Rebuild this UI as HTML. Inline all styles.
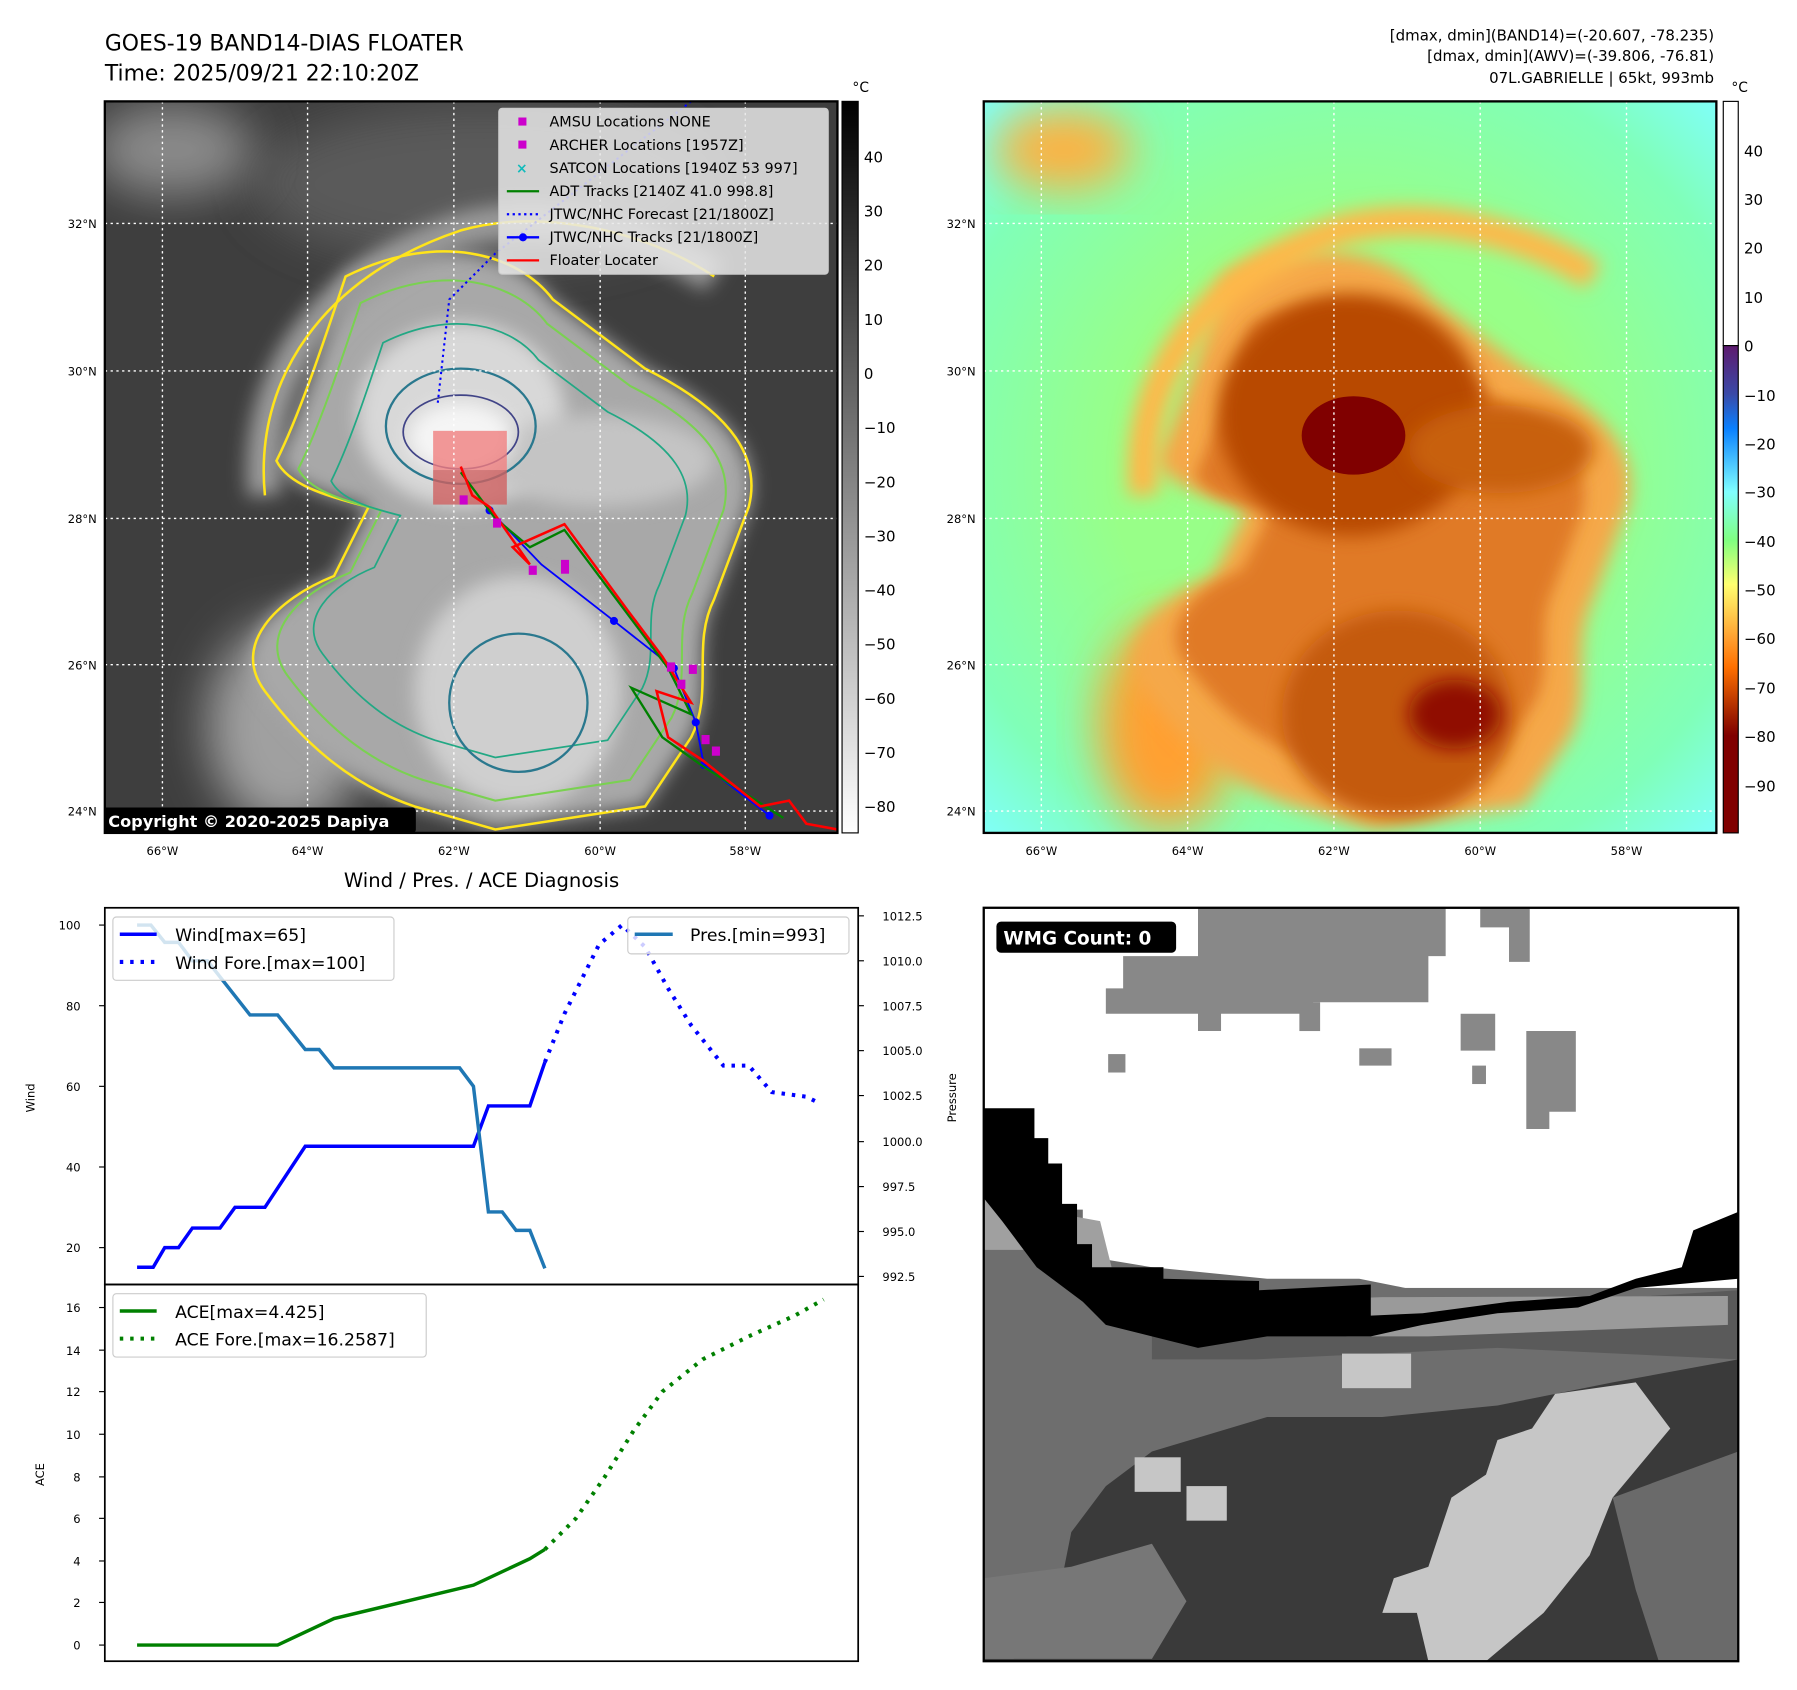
<!DOCTYPE html>
<html><head><meta charset="utf-8"><style>
html,body{margin:0;padding:0;background:#fff;width:1797px;height:1690px;overflow:hidden}
svg{display:block;font-family:"DejaVu Sans","Liberation Sans",sans-serif}
</style></head><body>
<svg width="1797" height="1690" viewBox="0 0 1560 1467" preserveAspectRatio="none" xmlns="http://www.w3.org/2000/svg">
<defs>
<filter id="b8" x="-20%" y="-20%" width="140%" height="140%"><feGaussianBlur stdDeviation="8"/></filter>
<filter id="b20" x="-30%" y="-30%" width="160%" height="160%"><feGaussianBlur stdDeviation="20"/></filter>
<clipPath id="cL"><rect x="91" y="88" width="636" height="635"/></clipPath>
<clipPath id="cR"><rect x="854" y="88" width="636" height="635"/></clipPath>
<clipPath id="cW"><rect x="854" y="788" width="655" height="654"/></clipPath>
<linearGradient id="gcb" x1="0" y1="0" x2="0" y2="1"><stop offset="0" stop-color="#000"/><stop offset="1" stop-color="#fff"/></linearGradient>
<linearGradient id="ccb" x1="0" y1="0" x2="0" y2="1">
<stop offset="0" stop-color="#5e1a6e"/><stop offset="0.10" stop-color="#3a4aa8"/><stop offset="0.17" stop-color="#0a80ff"/><stop offset="0.30" stop-color="#80ffff"/><stop offset="0.40" stop-color="#80ff80"/><stop offset="0.49" stop-color="#ffff70"/><stop offset="0.60" stop-color="#ffa030"/><stop offset="0.66" stop-color="#ff7000"/><stop offset="0.76" stop-color="#a02000"/><stop offset="0.80" stop-color="#800000"/><stop offset="1" stop-color="#800000"/></linearGradient>
<radialGradient id="rbg" cx="0.5" cy="0.5" r="0.72"><stop offset="0.45" stop-color="#98ff88"/><stop offset="0.8" stop-color="#80ffb8"/><stop offset="1" stop-color="#80ffff"/></radialGradient>
<path id="storm" d="M300,240 C380,200 450,220 480,260 L560,320 C640,360 660,400 650,440 L620,520 C600,560 620,600 600,640 L560,700 L430,720 L360,700 C300,680 260,640 230,600 C200,560 240,520 290,500 L320,440 C280,430 250,420 240,400 C260,360 280,300 300,240 Z"/>
<path id="band" d="M230,430 C220,330 280,240 400,200 C470,180 560,200 620,240" fill="none"/>
</defs>

<text x="91" y="44" font-size="19">GOES-19 BAND14-DIAS FLOATER</text>
<text x="91" y="70" font-size="19">Time: 2025/09/21 22:10:20Z</text>
<text x="1488" y="35" font-size="13" text-anchor="end">[dmax, dmin](BAND14)=(-20.607, -78.235)</text>
<text x="1488" y="53" font-size="13" text-anchor="end">[dmax, dmin](AWV)=(-39.806, -76.81)</text>
<text x="1488" y="72" font-size="13" text-anchor="end">07L.GABRIELLE | 65kt, 993mb</text>

<!-- LEFT MAP -->
<g clip-path="url(#cL)">
<rect x="91" y="88" width="636" height="635" fill="#3e3e3e"/>
<ellipse cx="420" cy="160" rx="200" ry="70" fill="#5a5a5a" filter="url(#b20)"/>
<ellipse cx="150" cy="130" rx="70" ry="40" fill="#8a8a8a" filter="url(#b20)"/>
<ellipse cx="250" cy="630" rx="70" ry="90" fill="#a0a0a0" filter="url(#b20)"/>
<use href="#storm" fill="#a8a8a8" filter="url(#b8)"/>
<use href="#band" stroke="#9a9a9a" stroke-width="30" filter="url(#b8)"/>
<ellipse cx="400" cy="360" rx="90" ry="80" fill="#d8d8d8" filter="url(#b8)"/>
<ellipse cx="450" cy="600" rx="90" ry="100" fill="#cfcfcf" filter="url(#b8)"/>
<ellipse cx="520" cy="400" rx="100" ry="40" fill="#c4c4c4" filter="url(#b8)"/>
<ellipse cx="400" cy="380" rx="45" ry="30" fill="#f5f5f5" filter="url(#b8)"/>
<use href="#storm" fill="none" stroke="#ffe41a" stroke-width="2.2"/>
<use href="#band" stroke="#ffe41a" stroke-width="2.2"/>
<use href="#storm" fill="none" stroke="#7ad151" stroke-width="2" transform="translate(430 470) scale(0.9) translate(-430 -470)"/>
<use href="#storm" fill="none" stroke="#22a884" stroke-width="2" transform="translate(430 470) scale(0.75) translate(-430 -470)"/>
<ellipse cx="400" cy="370" rx="65" ry="50" fill="none" stroke="#2a788e" stroke-width="2"/>
<ellipse cx="400" cy="375" rx="50" ry="32" fill="none" stroke="#414487" stroke-width="1.5"/>
<ellipse cx="450" cy="610" rx="60" ry="60" fill="none" stroke="#2a788e" stroke-width="2"/>
<rect x="376" y="374" width="64" height="34" fill="#f08080" opacity="0.8"/>
<rect x="376" y="408" width="64" height="30" fill="#d06060" opacity="0.8"/>
<g stroke="#fff" stroke-width="1.2" stroke-dasharray="2,3">
<line x1="141" y1="88" x2="141" y2="723"/><line x1="267" y1="88" x2="267" y2="723"/><line x1="394" y1="88" x2="394" y2="723"/><line x1="521" y1="88" x2="521" y2="723"/><line x1="647" y1="88" x2="647" y2="723"/>
<line x1="91" y1="194" x2="727" y2="194"/><line x1="91" y1="322" x2="727" y2="322"/><line x1="91" y1="450" x2="727" y2="450"/><line x1="91" y1="577" x2="727" y2="577"/><line x1="91" y1="704" x2="727" y2="704"/>
</g>
<polyline points="600,88 430,220 390,260 380,350" fill="none" stroke="#00f" stroke-width="1.8" stroke-dasharray="2,3"/>
<polyline points="425,443 470,490 533,539 585,580 604,627 611,664 668,708" fill="none" stroke="#00f" stroke-width="1.6"/>
<g fill="#00f"><circle cx="425" cy="443" r="3.5"/><circle cx="533" cy="539" r="3.5"/><circle cx="585" cy="580" r="3.5"/><circle cx="604" cy="627" r="3.5"/><circle cx="611" cy="664" r="3.5"/><circle cx="668" cy="708" r="3.5"/></g>
<polyline points="400,410 430,450 460,475 490,460 550,540 580,580 600,620 548,597 575,640 610,665 680,710" fill="none" stroke="#008000" stroke-width="2"/>
<polyline points="400,405 410,430 425,440 460,490 445,475 490,455 545,530 575,570 600,610 570,600 580,640 610,660 660,700 685,695 700,715 727,720" fill="none" stroke="#f00" stroke-width="2.2"/>
<g fill="#c0c"><rect x="399" y="430" width="7" height="8"/><rect x="428" y="450" width="7" height="8"/><rect x="459" y="491" width="7" height="8"/><rect x="487" y="486" width="7" height="12"/><rect x="579" y="575" width="7" height="8"/><rect x="598" y="577" width="7" height="8"/><rect x="588" y="590" width="7" height="8"/><rect x="609" y="638" width="7" height="8"/><rect x="618" y="648" width="7" height="8"/></g>
<rect x="433" y="94" width="286" height="144" rx="3" fill="#e8e8e8" fill-opacity="0.85" stroke="#ccc"/>
<g font-size="12.5" fill="#000">
<rect x="450" y="102" width="7" height="7" fill="#c0c"/><text x="477" y="110">AMSU Locations NONE</text>
<rect x="450" y="122" width="7" height="7" fill="#c0c"/><text x="477" y="130">ARCHER Locations [1957Z]</text>
<text x="448" y="150" fill="#1bb" font-size="12" font-weight="bold">×</text><text x="477" y="150">SATCON Locations [1940Z 53 997]</text>
<line x1="440" y1="166" x2="468" y2="166" stroke="#008000" stroke-width="2"/><text x="477" y="170">ADT Tracks [2140Z 41.0 998.8]</text>
<line x1="440" y1="186" x2="468" y2="186" stroke="#00f" stroke-width="2" stroke-dasharray="2,3"/><text x="477" y="190">JTWC/NHC Forecast [21/1800Z]</text>
<line x1="440" y1="206" x2="468" y2="206" stroke="#00f" stroke-width="2"/><circle cx="454" cy="206" r="3.5" fill="#00f"/><text x="477" y="210">JTWC/NHC Tracks [21/1800Z]</text>
<line x1="440" y1="226" x2="468" y2="226" stroke="#f00" stroke-width="2"/><text x="477" y="230">Floater Locater</text>
</g>
<rect x="89" y="701" width="272" height="22" rx="3" fill="#000"/>
<text x="94" y="718" font-size="14" font-weight="bold" fill="#fff">Copyright © 2020-2025 Dapiya</text>
</g>
<rect x="91" y="88" width="636" height="635" fill="none" stroke="#000" stroke-width="2"/>
<g font-size="10" text-anchor="end"><text x="84" y="198">32°N</text><text x="84" y="326">30°N</text><text x="84" y="454">28°N</text><text x="84" y="581">26°N</text><text x="84" y="708">24°N</text></g>
<g font-size="10" text-anchor="middle"><text x="141" y="742">66°W</text><text x="267" y="742">64°W</text><text x="394" y="742">62°W</text><text x="521" y="742">60°W</text><text x="647" y="742">58°W</text></g>
<rect x="731" y="88" width="14" height="635" fill="url(#gcb)" stroke="#000"/>
<text x="740" y="80" font-size="12">°C</text>
<g font-size="13"><text x="750" y="141">40</text><text x="750" y="188">30</text><text x="750" y="235">20</text><text x="750" y="282">10</text><text x="750" y="329">0</text><text x="750" y="376">−10</text><text x="750" y="423">−20</text><text x="750" y="470">−30</text><text x="750" y="517">−40</text><text x="750" y="564">−50</text><text x="750" y="611">−60</text><text x="750" y="658">−70</text><text x="750" y="705">−80</text></g>

<!-- RIGHT MAP -->
<g clip-path="url(#cR)">
<rect x="854" y="88" width="636" height="635" fill="url(#rbg)"/>
<g transform="translate(763 0)">
<ellipse cx="160" cy="130" rx="60" ry="35" fill="#ffb040" filter="url(#b20)"/>
<ellipse cx="250" cy="630" rx="60" ry="90" fill="#ffa030" filter="url(#b20)"/>
<use href="#storm" fill="#f5a848" filter="url(#b8)"/>
<use href="#band" stroke="#ffb848" stroke-width="26" filter="url(#b8)"/>
<use href="#storm" fill="#e07a28" filter="url(#b8)" transform="translate(430 470) scale(0.82) translate(-430 -470)"/>
<ellipse cx="410" cy="360" rx="115" ry="105" fill="#b84800" filter="url(#b8)"/>
<ellipse cx="450" cy="620" rx="100" ry="90" fill="#c45a10" filter="url(#b8)"/>
<ellipse cx="540" cy="390" rx="80" ry="38" fill="#c86010" filter="url(#b8)"/>
<ellipse cx="500" cy="620" rx="40" ry="30" fill="#901000" filter="url(#b8)"/>
<ellipse cx="412" cy="378" rx="45" ry="34" fill="#800000"/>
</g>
<g stroke="#fff" stroke-width="1.2" stroke-dasharray="2,3">
<line x1="904" y1="88" x2="904" y2="723"/><line x1="1031" y1="88" x2="1031" y2="723"/><line x1="1158" y1="88" x2="1158" y2="723"/><line x1="1285" y1="88" x2="1285" y2="723"/><line x1="1412" y1="88" x2="1412" y2="723"/>
<line x1="854" y1="194" x2="1490" y2="194"/><line x1="854" y1="322" x2="1490" y2="322"/><line x1="854" y1="450" x2="1490" y2="450"/><line x1="854" y1="577" x2="1490" y2="577"/><line x1="854" y1="704" x2="1490" y2="704"/>
</g>
</g>
<rect x="854" y="88" width="636" height="635" fill="none" stroke="#000" stroke-width="2"/>
<g font-size="10" text-anchor="end"><text x="847" y="198">32°N</text><text x="847" y="326">30°N</text><text x="847" y="454">28°N</text><text x="847" y="581">26°N</text><text x="847" y="708">24°N</text></g>
<g font-size="10" text-anchor="middle"><text x="904" y="742">66°W</text><text x="1031" y="742">64°W</text><text x="1158" y="742">62°W</text><text x="1285" y="742">60°W</text><text x="1412" y="742">58°W</text></g>
<rect x="1496" y="88" width="13" height="212" fill="#fff" stroke="#000"/>
<rect x="1496" y="300" width="13" height="423" fill="url(#ccb)" stroke="#000"/>
<text x="1503" y="80" font-size="12">°C</text>
<g font-size="13"><text x="1514" y="136">40</text><text x="1514" y="178">30</text><text x="1514" y="220">20</text><text x="1514" y="263">10</text><text x="1514" y="305">0</text><text x="1514" y="348">−10</text><text x="1514" y="390">−20</text><text x="1514" y="432">−30</text><text x="1514" y="475">−40</text><text x="1514" y="517">−50</text><text x="1514" y="559">−60</text><text x="1514" y="602">−70</text><text x="1514" y="644">−80</text><text x="1514" y="687">−90</text></g>

<!-- WIND PANEL -->
<text x="418" y="770" font-size="17" text-anchor="middle">Wind / Pres. / ACE Diagnosis</text>
<rect x="91" y="788" width="654" height="327" fill="none" stroke="#000" stroke-width="1.5"/>
<rect x="91" y="1115" width="654" height="327" fill="none" stroke="#000" stroke-width="1.5"/>
<g font-size="10" text-anchor="end"><text x="70" y="807">100</text><text x="70" y="877">80</text><text x="70" y="947">60</text><text x="70" y="1017">40</text><text x="70" y="1087">20</text></g>
<g stroke="#000"><line x1="86" y1="803" x2="91" y2="803"/><line x1="86" y1="873" x2="91" y2="873"/><line x1="86" y1="943" x2="91" y2="943"/><line x1="86" y1="1013" x2="91" y2="1013"/><line x1="86" y1="1083" x2="91" y2="1083"/>
<line x1="745" y1="795" x2="750" y2="795"/><line x1="745" y1="834" x2="750" y2="834"/><line x1="745" y1="873" x2="750" y2="873"/><line x1="745" y1="912" x2="750" y2="912"/><line x1="745" y1="951" x2="750" y2="951"/><line x1="745" y1="991" x2="750" y2="991"/><line x1="745" y1="1030" x2="750" y2="1030"/><line x1="745" y1="1069" x2="750" y2="1069"/><line x1="745" y1="1108" x2="750" y2="1108"/></g>
<g font-size="10"><text x="766" y="799">1012.5</text><text x="766" y="838">1010.0</text><text x="766" y="877">1007.5</text><text x="766" y="916">1005.0</text><text x="766" y="955">1002.5</text><text x="766" y="995">1000.0</text><text x="766" y="1034">997.5</text><text x="766" y="1073">995.0</text><text x="766" y="1112">992.5</text></g>
<text transform="translate(30 953) rotate(-90)" font-size="10" text-anchor="middle">Wind</text>
<text transform="translate(830 953) rotate(-90)" font-size="10" text-anchor="middle">Pressure</text>
<polyline points="119,1100 133,1100 143,1083 155,1083 167,1066 191,1066 204,1048 230,1048 265,995 411,995 424,960 460,960 473,922" fill="none" stroke="#00f" stroke-width="3"/>
<polyline points="473,922 490,880 505,850 520,820 540,803 560,822 580,858 600,890 628,925 650,925 670,948 700,952 712,958" fill="none" stroke="#00f" stroke-width="3.5" stroke-dasharray="3,6"/>
<polyline points="119,803 131,803 143,818 155,818 167,834 180,834 217,881 241,881 265,911 277,911 290,927 399,927 411,943 424,1052 436,1052 448,1068 460,1068 473,1101" fill="none" stroke="#1f77b4" stroke-width="3"/>
<rect x="98" y="796" width="244" height="55" rx="3" fill="#fff" fill-opacity="0.8" stroke="#ccc"/>
<line x1="104" y1="811" x2="136" y2="811" stroke="#00f" stroke-width="3"/><text x="152" y="817" font-size="15">Wind[max=65]</text>
<line x1="104" y1="835" x2="136" y2="835" stroke="#00f" stroke-width="3.5" stroke-dasharray="3,6"/><text x="152" y="841" font-size="15">Wind Fore.[max=100]</text>
<rect x="545" y="796" width="192" height="32" rx="3" fill="#fff" fill-opacity="0.8" stroke="#ccc"/>
<line x1="551" y1="811" x2="584" y2="811" stroke="#1f77b4" stroke-width="3"/><text x="599" y="817" font-size="15">Pres.[min=993]</text>

<g font-size="10" text-anchor="end"><text x="70" y="1139">16</text><text x="70" y="1176">14</text><text x="70" y="1212">12</text><text x="70" y="1249">10</text><text x="70" y="1286">8</text><text x="70" y="1322">6</text><text x="70" y="1359">4</text><text x="70" y="1395">2</text><text x="70" y="1432">0</text></g>
<g stroke="#000"><line x1="86" y1="1135" x2="91" y2="1135"/><line x1="86" y1="1172" x2="91" y2="1172"/><line x1="86" y1="1208" x2="91" y2="1208"/><line x1="86" y1="1245" x2="91" y2="1245"/><line x1="86" y1="1282" x2="91" y2="1282"/><line x1="86" y1="1318" x2="91" y2="1318"/><line x1="86" y1="1355" x2="91" y2="1355"/><line x1="86" y1="1391" x2="91" y2="1391"/><line x1="86" y1="1428" x2="91" y2="1428"/></g>
<text transform="translate(38 1280) rotate(-90)" font-size="10" text-anchor="middle">ACE</text>
<polyline points="119,1428 241,1428 290,1405 411,1376 460,1353 473,1345" fill="none" stroke="#008000" stroke-width="3"/>
<polyline points="473,1345 500,1318 525,1282 550,1242 575,1208 610,1180 650,1160 690,1142 715,1128" fill="none" stroke="#008000" stroke-width="3.5" stroke-dasharray="3,6"/>
<rect x="98" y="1123" width="272" height="55" rx="3" fill="#fff" fill-opacity="0.8" stroke="#ccc"/>
<line x1="104" y1="1138" x2="136" y2="1138" stroke="#008000" stroke-width="3"/><text x="152" y="1144" font-size="15">ACE[max=4.425]</text>
<line x1="104" y1="1162" x2="136" y2="1162" stroke="#008000" stroke-width="3.5" stroke-dasharray="3,6"/><text x="152" y="1168" font-size="15">ACE Fore.[max=16.2587]</text>

<!-- WMG -->
<g clip-path="url(#cW)">
<rect x="854" y="788" width="655" height="654" fill="#3a3a3a"/>
<rect x="854" y="788" width="655" height="330" fill="#fff"/>
<polygon points="1040,788 1255,788 1255,830 1240,830 1240,870 1140,870 1140,880 1060,880 1060,895 1040,895 1040,880 960,880 960,858 975,858 975,830 1040,830" fill="#888"/>
<polygon points="1285,788 1328,788 1328,835 1310,835 1310,805 1285,805" fill="#888"/>
<rect x="1268" y="880" width="30" height="32" fill="#888"/><rect x="1180" y="910" width="28" height="15" fill="#888"/><rect x="1128" y="870" width="18" height="25" fill="#888"/>
<polygon points="1325,895 1368,895 1368,965 1345,965 1345,980 1325,980" fill="#888"/><rect x="962" y="915" width="15" height="16" fill="#888"/><rect x="1278" y="925" width="12" height="16" fill="#888"/>
<polygon points="854,1440 854,1020 880,1020 880,1050 940,1050 940,1090 1000,1100 1100,1110 1180,1110 1220,1118 1509,1118 1509,1180 1400,1200 1300,1220 1200,1230 1100,1230 1000,1260 960,1290 930,1330 920,1380 900,1420 880,1440" fill="#6e6e6e"/>
<polygon points="854,1010 900,1010 900,1050 955,1060 965,1100 1010,1100 1010,1120 960,1125 940,1100 900,1085 854,1085" fill="#a0a0a0"/>
<polygon points="1000,1150 1200,1140 1509,1120 1509,1180 1300,1170 1090,1180 1000,1180" fill="#5a5a5a"/>
<polygon points="1090,1130 1200,1126 1500,1125 1500,1150 1240,1160 1170,1160 1110,1150" fill="#9a9a9a"/>
<polygon points="854,962 898,962 898,988 910,988 910,1010 922,1010 922,1045 935,1045 935,1080 948,1080 948,1100 1010,1100 1010,1110 1093,1112 1093,1120 1190,1115 1190,1142 1235,1140 1310,1130 1380,1125 1420,1110 1460,1100 1470,1068 1509,1052 1509,1110 1420,1118 1370,1135 1300,1140 1235,1150 1190,1160 1100,1160 1040,1170 1000,1160 960,1150 940,1130 900,1100 870,1060 854,1040" fill="#000"/>
<polygon points="1350,1210 1420,1200 1450,1240 1400,1300 1380,1350 1340,1400 1290,1442 1240,1442 1230,1400 1200,1400 1210,1370 1240,1360 1260,1300 1290,1280 1300,1250 1330,1240" fill="#c6c6c6"/>
<rect x="1165" y="1175" width="60" height="30" fill="#c6c6c6"/><rect x="985" y="1265" width="40" height="30" fill="#c6c6c6"/><rect x="1030" y="1290" width="35" height="30" fill="#c6c6c6"/>
<polygon points="854,1370 930,1360 1000,1340 1030,1390 1000,1440 854,1440" fill="#777"/>
<polygon points="1400,1300 1509,1260 1509,1442 1440,1442 1420,1380" fill="#6a6a6a"/>
</g>
<rect x="854" y="788" width="655" height="654" fill="none" stroke="#000" stroke-width="2"/>
<rect x="865" y="800" width="156" height="27" rx="4" fill="#000"/>
<text x="871" y="820" font-size="16" font-weight="bold" fill="#fff">WMG Count: 0</text>
</svg>
</body></html>
